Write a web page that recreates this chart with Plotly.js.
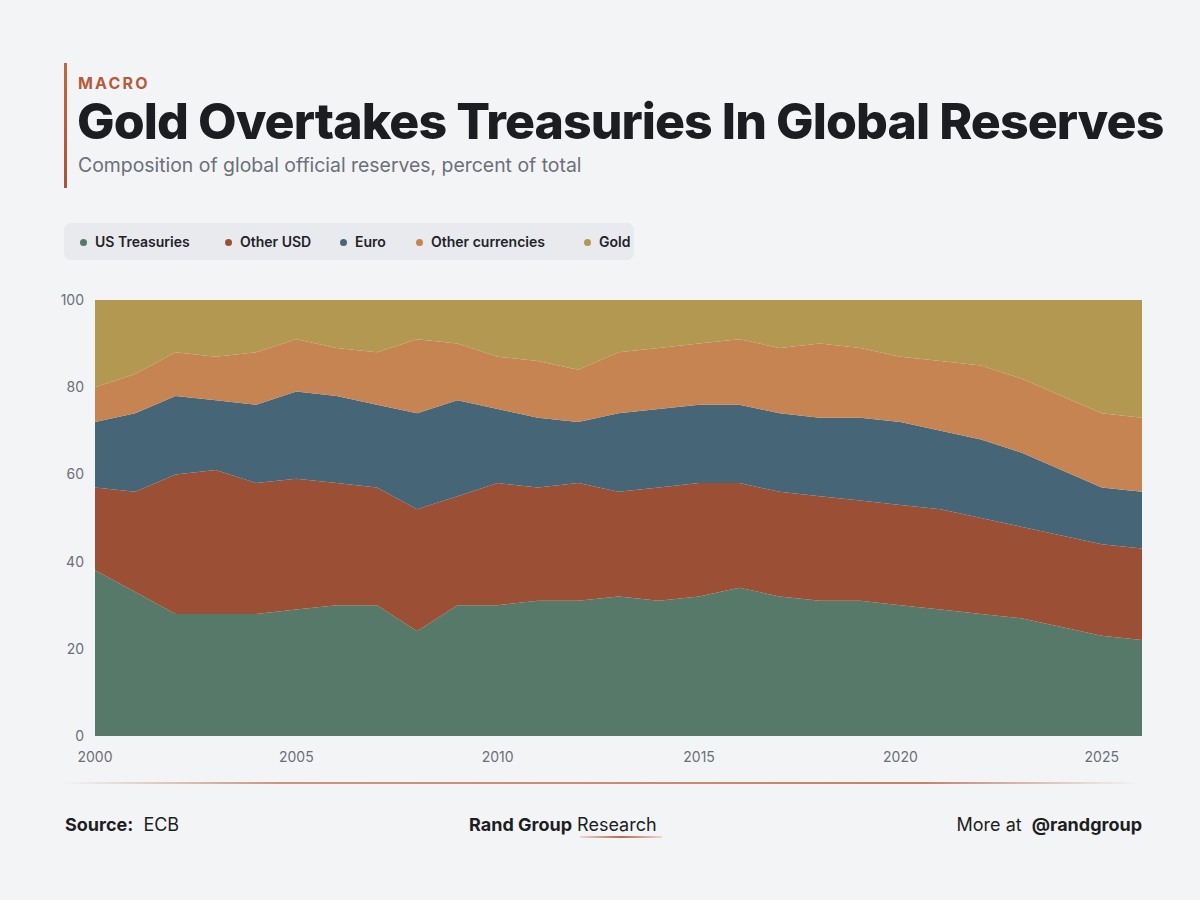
<!DOCTYPE html>
<html>
<head>
<meta charset="utf-8">
<script src="https://cdn.plot.ly/plotly-3.0.1.min.js"></script>
<style>
  html, body { margin:0; padding:0; background:#f3f4f6; }
  body { width:1200px; height:900px; position:relative; overflow:hidden; font-family:Inter, "Noto Sans", sans-serif; color:#1c1e22; }
  #chart { position:absolute; left:0; top:0; width:1200px; height:900px; }
  .abs { position:absolute; white-space:nowrap; }
  #accent { left:64px; top:63px; width:3px; height:125px; background:linear-gradient(#c4673f,#a8553a); }
  #kicker { left:78px; top:73px; font-size:16px; font-weight:700; letter-spacing:2.2px; color:#b65b3b; }
  #title { left:77px; top:91px; font-size:50px; font-weight:800; letter-spacing:-0.93px; color:#1b1d21; line-height:60px; }
  #subtitle { left:78px; top:153px; font-size:19.4px; color:#6b7079; }
  #legend { left:64px; top:223px; width:570px; height:37px; background:#e8eaed; border-radius:7px; }
  .li { position:absolute; top:0; height:37px; line-height:37px; font-size:14px; font-weight:600; color:#1f2328; }
  .dot { display:inline-block; width:7px; height:7px; border-radius:50%; margin-right:8.5px; vertical-align:middle; position:relative; top:-1px; }
  #divider { left:60px; top:782px; width:1080px; height:2px; background:linear-gradient(90deg, rgba(200,140,110,0), rgba(200,140,110,0.9) 20%, rgba(190,120,90,0.9) 80%, rgba(200,140,110,0)); }
  .foot { top:814px; font-size:18px; color:#1c1e22; }
  #ulin { left:580px; top:836px; width:82px; height:2px; background:linear-gradient(90deg, rgba(190,110,80,0.2), #b8684a, rgba(190,110,80,0.2)); }
</style>
</head>
<body>
<div id="chart"></div>
<div class="abs" id="accent"></div>
<div class="abs" id="kicker">MACRO</div>
<div class="abs" id="title">Gold Overtakes Treasuries In Global Reserves</div>
<div class="abs" id="subtitle">Composition of global official reserves, percent of total</div>
<div class="abs" id="legend"></div>
<div class="abs" id="divider"></div>
<div class="abs foot" style="left:65px;"><b>Source:</b>&nbsp; ECB</div>
<div class="abs foot" style="left:469px;"><b>Rand Group</b> Research</div>
<div class="abs" id="ulin"></div>
<div class="abs foot" style="right:58px;">More at &nbsp;<b>@randgroup</b></div>
<script>
const years = [2000,2001,2002,2003,2004,2005,2006,2007,2008,2009,2010,2011,2012,2013,2014,2015,2016,2017,2018,2019,2020,2021,2022,2023,2024,2025,2026];
const usTreasuries   = [38,33,28,28,28,29,30,30,24,30,30,31,31,32,31,32,34,32,31,31,30,29,28,27,25,23,22];
const otherUSD       = [19,23,32,33,30,30,28,27,28,25,28,26,27,24,26,26,24,24,24,23,23,23,22,21,21,21,21];
const euro           = [15,18,18,16,18,20,20,19,22,22,17,16,14,18,18,18,18,18,18,19,19,18,18,17,15,13,13];
const otherCurrencies= [8,9,10,10,12,12,11,12,17,13,12,13,12,14,14,14,15,15,17,16,15,16,17,17,17,17,17];
const gold           = [20,17,12,13,12,9,11,12,9,10,13,14,16,12,11,10,9,11,10,11,13,14,15,18,22,26,27];

const seriesNames  = ["US Treasuries","Other USD","Euro","Other currencies","Gold"];
const seriesValues = [usTreasuries, otherUSD, euro, otherCurrencies, gold];
const seriesColors = ["#56796a","#9b5035","#466677","#c78453","#b29850"];
const xTicks = [2000,2005,2010,2015,2020,2025];
const yTicks = [0,20,40,60,80,100];

const traces = seriesNames.map((n,i)=>({
  type:'scatter', mode:'none', x:years, y:seriesValues[i], name:n,
  stackgroup:'one', fillcolor:seriesColors[i], line:{width:0}, hoverinfo:'skip'
}));

const layout = {
  width:1200, height:900,
  margin:{l:95, r:58, t:300, b:164, pad:0},
  paper_bgcolor:'rgba(0,0,0,0)', plot_bgcolor:'rgba(0,0,0,0)',
  showlegend:false,
  font:{family:'Inter, "Noto Sans", sans-serif', size:14, color:'#6b6f76'},
  xaxis:{range:[2000,2026], tickvals:xTicks, ticktext:xTicks.map(String), showgrid:false, zeroline:false, showline:false, ticks:'', ticklabelstandoff:11, fixedrange:true},
  yaxis:{range:[0,100], tickvals:yTicks, showgrid:false, zeroline:false, showline:false, ticks:'', ticklabelstandoff:10, fixedrange:true}
};
Plotly.newPlot('chart', traces, layout, {staticPlot:true, displayModeBar:false});

// legend built from series
const leg = document.getElementById('legend');
const legX = [15.5, 160.5, 275.5, 351.5, 519.5];
seriesNames.forEach((n,i)=>{
  const d = document.createElement('div');
  d.className='li'; d.style.left = legX[i]+'px';
  d.innerHTML = '<span class="dot" style="background:'+seriesColors[i]+'"></span>'+n;
  leg.appendChild(d);
});
</script>
</body>
</html>
